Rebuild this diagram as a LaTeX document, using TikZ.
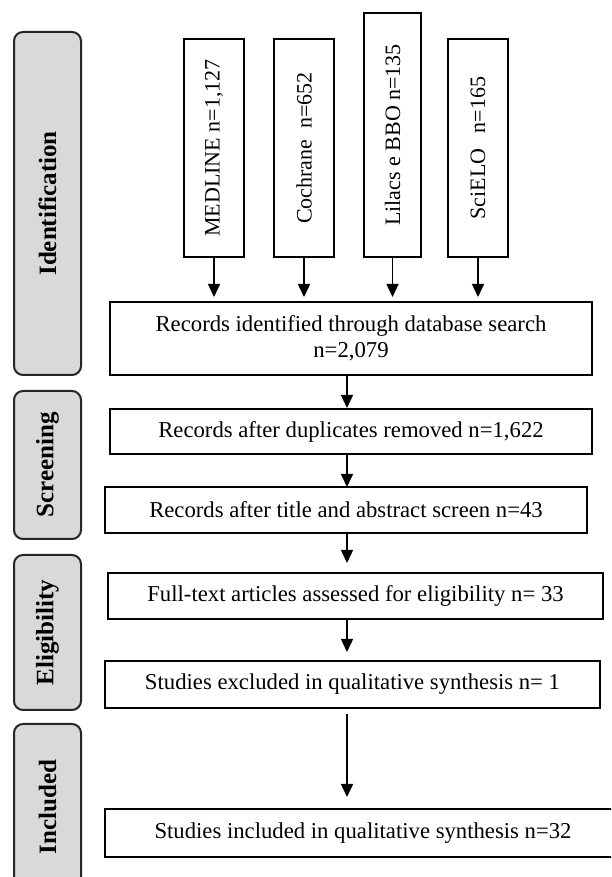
\documentclass[tikz,border=0pt]{standalone}
\usepackage{fontspec}
\setmainfont{Liberation Serif}
\usepackage{graphicx}
\usetikzlibrary{arrows.meta}
\definecolor{labgray}{RGB}{217,217,217}
\tikzset{
  stagebox/.style={draw=black!85, line width=2pt, fill=labgray, rounded corners=9pt,
    minimum width=67pt, inner sep=0pt, outer sep=0pt,
    font=\fontsize{25}{30}\selectfont\bfseries},
  flowbox/.style={draw, line width=1.4pt, fill=white, inner sep=0pt, outer sep=0pt,
    align=center, font=\fontsize{22.7}{26}\selectfont},
  dbbox/.style={flowbox, font=\fontsize{22}{26}\selectfont},
  arr/.style={line width=1.5pt, -{Triangle[width=12pt,length=13pt]}}
}
\begin{document}
\begin{tikzpicture}[x=1pt,y=1pt]
\clip (0,0) rectangle (611,877);
\fill[white] (0,0) rectangle (611,877);
% stage labels
\node[stagebox, minimum height=343pt] (sid) at (47.5,673.5) {\rotatebox{90}{Identification}};
\node[stagebox, minimum height=148pt] (sscr) at (47.5,412) {\rotatebox{90}{Screening}};
\node[stagebox, minimum height=155pt] (selig) at (47.5,244.5) {\rotatebox{90}{Eligibility}};
\node[stagebox, minimum height=166pt] (sinc) at (47.5,70) {\rotatebox{90}{Included}};
% databases
\node[dbbox, minimum width=60pt, minimum height=218pt] (med) at (214,729) {\rotatebox{90}{MEDLINE n=1,127}};
\node[dbbox, minimum width=60pt, minimum height=218pt] (coc) at (304,729) {\rotatebox{90}{Cochrane\hspace{0.5em}n=652}};
\node[dbbox, minimum width=57pt, minimum height=244pt] (lil) at (392.5,742) {\rotatebox{90}{Lilacs e BBO n=135}};
\node[dbbox, minimum width=60pt, minimum height=218pt] (sci) at (478,729) {\rotatebox{90}{SciELO\hspace{0.7em}n=165}};
% flow
\node[flowbox, minimum width=482pt, minimum height=73pt] (rec) at (351,538.5) {Records identified through database search\\n=2,079};
\node[flowbox, minimum width=482pt, minimum height=45pt] (dup) at (351,445.5) {Records after duplicates removed n=1,622};
\node[flowbox, minimum width=482pt, minimum height=46pt] (tit) at (346,367) {Records after title and abstract screen n=43};
\node[flowbox, minimum width=495pt, minimum height=46pt] (full) at (355.5,281) {Full-text articles assessed for eligibility n= 33};
\node[flowbox, minimum width=495pt, minimum height=47pt] (exc) at (352.5,192.5) {Studies excluded in qualitative synthesis n= 1};
\node[flowbox, minimum width=516pt, minimum height=48pt] (inc) at (363,44) {Studies included in qualitative synthesis n=32};
\coordinate (ax) at (347,0);
% arrows
\draw[arr, shorten >=5pt] (med) -- (med |- rec.north);
\draw[arr, shorten >=5pt] (coc) -- (coc |- rec.north);
\draw[arr, shorten >=5pt] (lil) -- (lil |- rec.north);
\draw[arr, shorten >=5pt] (sci) -- (sci |- rec.north);
\draw[arr, shorten >=1pt] (rec.south -| ax) -- (dup.north -| ax);
\draw[arr] (dup.south -| ax) -- (tit.north -| ax);
\draw[arr, shorten >=10pt] (tit.south -| ax) -- (full.north -| ax);
\draw[arr, shorten >=9pt] (full.south -| ax) -- (exc.north -| ax);
\draw[arr, shorten <=6pt, shorten >=12pt] (exc.south -| ax) -- (inc.north -| ax);
\end{tikzpicture}
\end{document}
